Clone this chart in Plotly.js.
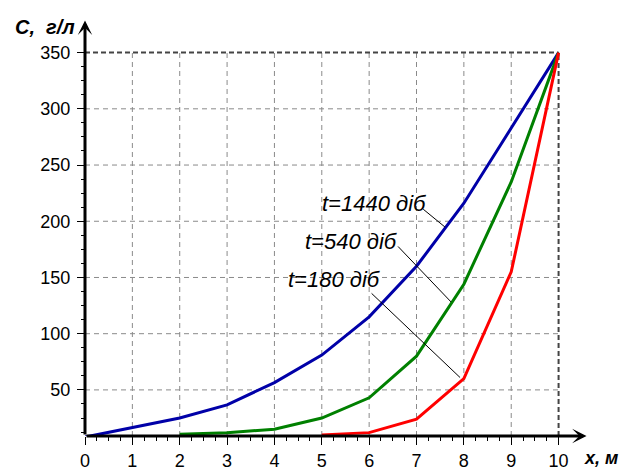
<!DOCTYPE html>
<html>
<head>
<meta charset="utf-8">
<script src="https://cdn.plot.ly/plotly-3.0.1.min.js"></script>
<style>html,body{margin:0;padding:0;background:#fff;}#chart{width:626px;height:470px;}</style>
</head>
<body>
<div id="chart"></div>
<script>
// Data
const xTicks = [0,1,2,3,4,5,6,7,8,9,10];
const yTicks = [50,100,150,200,250,300,350];
const x1440 = [0,1,2,3,4,5,6,7,8,9,10];
const c1440 = [8,16.5,25,36.7,56.5,81,115,160,216,283,350];
const x540 = [2,3,4,5,6,7,8,9,10];
const c540 = [10.5,12,15,25,43,80,144,235,350];
const x180 = [5,6,7,8,9,10];
const c180 = [10,12,24,60,155,350];
const seriesNames = ['t=1440 діб','t=540 діб','t=180 діб'];
// label placement (data coords): text right edge / center, leader start, leader end
const labelX = [7.26,6.65,6.29];
const labelY = [215.8,182.4,147.8];
const leadX0 = [7.11,6.58,6.02];
const leadY0 = [211.8,178.9,137.1];
const leadX1 = [7.60,7.73,7.92];
const leadY1 = [194.9,128.2,61];

const X_MIN = 0, X_MAX = 10.6, Y_MIN = 9, Y_MAX = 379;
const X_END = xTicks[xTicks.length-1], Y_END = yTicks[yTicks.length-1];

const traces = [
  {x:x1440, y:c1440, mode:'lines', line:{color:'#0000A8', width:3}, name:seriesNames[0]},
  {x:x540, y:c540, mode:'lines', line:{color:'#008000', width:3}, name:seriesNames[1]},
  {x:x180, y:c180, mode:'lines', line:{color:'#FF0000', width:3}, name:seriesNames[2]}
];

const shapes = [];
xTicks.forEach(v => { if (v > 0 && v < X_END) shapes.push({type:'line', layer:'below', xref:'x', yref:'y', x0:v, x1:v, y0:Y_MIN, y1:Y_END, line:{color:'#8a8a8a', width:1, dash:'5px,4px'}}); });
yTicks.forEach(v => { if (v < Y_END) shapes.push({type:'line', layer:'below', xref:'x', yref:'y', x0:X_MIN, x1:X_END, y0:v, y1:v, line:{color:'#8a8a8a', width:1, dash:'5px,4px'}}); });
shapes.push({type:'line', layer:'below', xref:'x', yref:'y', x0:X_MIN, x1:X_END, y0:Y_END, y1:Y_END, line:{color:'#444', width:2, dash:'5px,3px'}});
shapes.push({type:'line', layer:'below', xref:'x', yref:'y', x0:X_END, x1:X_END, y0:Y_MIN, y1:Y_END, line:{color:'#444', width:2, dash:'5px,3px'}});

const xMinor = [], yMinor = [];
for (let v = 0.25; v < X_END; v += 0.25) if (Math.abs(v - Math.round(v)) > 1e-6) xMinor.push(v);
for (let v = 12.5; v < Y_END; v += 12.5) if (v % 50 !== 0) yMinor.push(v);

const annotations = [];
// axis arrows
annotations.push({xref:'x', yref:'y', axref:'x', ayref:'y', x:X_MAX-0.01, y:Y_MIN, ax:X_MIN, ay:Y_MIN, showarrow:true, arrowhead:3, arrowsize:0.8, arrowwidth:3, arrowcolor:'#000', text:''});
annotations.push({xref:'x', yref:'y', axref:'x', ayref:'y', x:X_MIN, y:Y_MAX-0.5, ax:X_MIN, ay:Y_MIN, showarrow:true, arrowhead:3, arrowsize:0.8, arrowwidth:3, arrowcolor:'#000', text:''});
// series labels and leader lines
for (let i = 0; i < 3; i++) {
  annotations.push({xref:'x', yref:'y', x:labelX[i], y:labelY[i], xanchor:'right', yanchor:'middle', showarrow:false, text:seriesNames[i], font:{family:'Liberation Sans, Arial, sans-serif', size:22, style:'italic', color:'#000'}});
  annotations.push({xref:'x', yref:'y', axref:'x', ayref:'y', x:leadX1[i], y:leadY1[i], ax:leadX0[i], ay:leadY0[i], showarrow:true, arrowhead:0, arrowwidth:1, arrowcolor:'#000', text:''});
}
// axis titles
annotations.push({xref:'paper', yref:'paper', x:0, y:1, xanchor:'right', yanchor:'middle', xshift:-8, yshift:-7, showarrow:false, text:'<b><i>C,  г/л</i></b>', font:{family:'Liberation Sans, Arial, sans-serif', size:20, color:'#000'}});
annotations.push({xref:'paper', yref:'paper', x:1, y:0, xanchor:'left', yanchor:'middle', xshift:-5, yshift:-22, showarrow:false, text:'<b><i>x, м</i></b>', font:{family:'Liberation Sans, Arial, sans-serif', size:18, color:'#000'}});

const layout = {
  width:626, height:470,
  margin:{l:85, r:39, t:20, b:34, pad:0},
  paper_bgcolor:'#fff', plot_bgcolor:'#fff',
  showlegend:false,
  font:{family:'Liberation Sans, Arial, sans-serif', size:18, color:'#000'},
  xaxis:{range:[X_MIN, X_MAX], tickmode:'array', tickvals:xTicks, ticktext:xTicks.map(String), ticks:'outside', ticklen:8, tickwidth:1, tickcolor:'#000', showgrid:false, zeroline:false, showline:false, tickfont:{size:18},
         minor:{tickmode:'array', tickvals:xMinor, ticks:'outside', ticklen:4, tickwidth:1, tickcolor:'#000', showgrid:false}},
  yaxis:{range:[Y_MIN, Y_MAX], tickmode:'array', tickvals:yTicks, ticktext:yTicks.map(String), ticks:'outside', ticklen:7, tickwidth:1, tickcolor:'#000', showgrid:false, zeroline:false, showline:false, tickfont:{size:18}, ticklabelstandoff:3,
         minor:{tickmode:'array', tickvals:yMinor, ticks:'outside', ticklen:3, tickwidth:1, tickcolor:'#000', showgrid:false}},
  shapes:shapes,
  annotations:annotations
};

Plotly.newPlot('chart', traces, layout, {displayModeBar:false, staticPlot:true});
</script>
</body>
</html>
